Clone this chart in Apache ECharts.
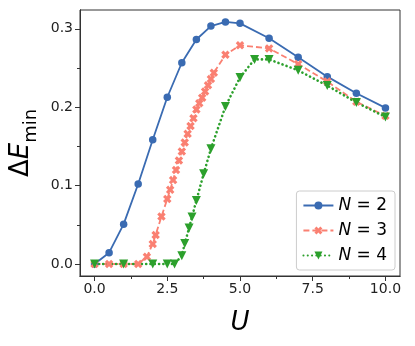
<!DOCTYPE html>
<html>
<head>
<meta charset="utf-8">
<script src="https://cdn.jsdelivr.net/npm/echarts@6/dist/echarts.min.js"></script>
<style>
  html, body { margin: 0; padding: 0; background: #fff; }
  #chart { width: 415px; height: 346px; }
</style>
</head>
<body>
<div id="chart"></div>
<script>
// data
const uN2 = [0, 0.5, 1, 1.5, 2, 2.5, 3, 3.5, 4, 4.5, 5, 6, 7, 8, 9, 10];
const eN2 = [0.0, 0.0144, 0.0508, 0.102, 0.1586, 0.2127, 0.2567, 0.2864, 0.3035, 0.3088, 0.307, 0.288, 0.2638, 0.239, 0.2178, 0.1991];

const uN3 = [0, 0.5, 1, 1.5, 1.8, 2.0, 2.1, 2.3, 2.5, 2.6, 2.7, 2.8, 2.9, 3.0, 3.1, 3.2, 3.3, 3.4, 3.5, 3.6, 3.7, 3.8, 3.9, 4.0, 4.1, 4.5, 5, 6, 7, 8, 9, 10];
const eN3 = [0, 0, 0, 0, 0.0093, 0.0256, 0.037, 0.0605, 0.083, 0.0946, 0.107, 0.120, 0.132, 0.1435, 0.155, 0.166, 0.176, 0.186, 0.197, 0.205, 0.212, 0.220, 0.228, 0.236, 0.244, 0.267, 0.279, 0.275, 0.255, 0.2327, 0.207, 0.189];

const uN4 = [0, 1, 2, 2.5, 2.75, 3.0, 3.1, 3.25, 3.35, 3.5, 3.75, 4.0, 4.5, 5, 5.5, 6, 7, 8, 9, 10];
const eN4 = [0, 0, 0, 0, 0, 0.0106, 0.026, 0.046, 0.06, 0.081, 0.115, 0.147, 0.201, 0.238, 0.261, 0.261, 0.247, 0.2276, 0.206, 0.1876];

const xTicks = [0, 2.5, 5, 7.5, 10];
const xMinor = [1.25, 3.75, 6.25, 8.75];
const yTicks = [0, 0.1, 0.2, 0.3];
const yMinor = [0.05, 0.15, 0.25];

const font = "DejaVu Sans";
const pairs = (u, e) => u.map((x, i) => [x, e[i]]);
// filled "X" marker, a bit chunky like matplotlib's
const crossPath = "path://M2.6,0 L5,2.4 L7.4,0 L10,2.6 L7.6,5 L10,7.4 L7.4,10 L5,7.6 L2.6,10 L0,7.4 L2.4,5 L0,2.6 Z";

const chart = echarts.init(document.getElementById("chart"));

const xBase = {
  type: "value", position: "bottom", min: -0.5, max: 10.5, splitLine: { show: false },
  axisLine: { show: true, onZero: false, lineStyle: { color: "#333", width: 1 } }
};
const yBase = {
  type: "value", position: "left", min: -0.0153, max: 0.324, splitLine: { show: false },
  axisLine: { show: true, onZero: false, lineStyle: { color: "#333", width: 1 } }
};

const option = {
  animation: false,
  backgroundColor: "#fff",
  grid: {
    left: 80, top: 10, right: 15, bottom: 70,
    outerBoundsMode: "none",
    show: true, borderColor: "#333", borderWidth: 1
  },
  xAxis: [
    Object.assign({}, xBase, {
      name: "U",
      nameLocation: "middle",
      nameGap: 34,
      nameTextStyle: { fontFamily: font, fontSize: 26, fontStyle: "italic", color: "#000" },
      axisTick: { show: true, customValues: xTicks, length: 5, lineStyle: { color: "#333" } },
      axisLabel: {
        customValues: xTicks, fontFamily: font, fontSize: 14, color: "#222", margin: 6,
        formatter: v => v.toFixed(1)
      }
    }),
    Object.assign({}, xBase, {
      axisTick: { show: true, customValues: xMinor, length: 3, lineStyle: { color: "#333" } },
      axisLabel: { show: false }
    })
  ],
  yAxis: [
    Object.assign({}, yBase, {
      name: "{d|Δ}{e|E}{s|min}",
      nameLocation: "middle",
      nameGap: 46,
      nameRotate: 90,
      nameTextStyle: {
        rich: {
          d: { fontFamily: font, fontSize: 26, color: "#000", verticalAlign: "bottom" },
          e: { fontFamily: font, fontSize: 26, fontStyle: "italic", color: "#000", verticalAlign: "bottom" },
          s: { fontFamily: font, fontSize: 18, color: "#000", verticalAlign: "bottom", padding: [0, 0, -6, 0] }
        }
      },
      axisTick: { show: true, customValues: yTicks, length: 5, lineStyle: { color: "#333" } },
      axisLabel: {
        customValues: yTicks, fontFamily: font, fontSize: 14, color: "#222", margin: 7,
        formatter: v => v.toFixed(1)
      }
    }),
    Object.assign({}, yBase, {
      axisTick: { show: true, customValues: yMinor, length: 3, lineStyle: { color: "#333" } },
      axisLabel: { show: false }
    })
  ],
  legend: {
    orient: "vertical",
    right: 20,
    bottom: 76,
    padding: [6, 8, 6, 6],
    itemGap: 8,
    itemWidth: 30,
    itemHeight: 10,
    backgroundColor: "rgba(255,255,255,0.85)",
    borderColor: "#ccc",
    borderWidth: 1,
    borderRadius: 3,
    textStyle: {
      fontFamily: font, fontSize: 17, color: "#000",
      rich: {
        i: { fontFamily: font, fontSize: 17, fontStyle: "italic", color: "#000" },
        t: { fontFamily: font, fontSize: 17, color: "#000" }
      }
    },
    formatter: name => "{i|N}{t| = " + name.split("=")[1] + "}",
    data: ["N=2", "N=3", "N=4"]
  },
  series: [
    {
      name: "N=2", type: "line", data: pairs(uN2, eN2),
      symbol: "circle", symbolSize: 7.5,
      itemStyle: { color: "#3a6bb2" },
      lineStyle: { width: 1.8, color: "#3a6bb2" }
    },
    {
      name: "N=3", type: "line", data: pairs(uN3, eN3),
      symbol: crossPath, symbolSize: 8.5,
      itemStyle: { color: "#fa8072" },
      lineStyle: { width: 1.8, color: "#fa8072", type: [6, 3] }
    },
    {
      name: "N=4", type: "line", data: pairs(uN4, eN4),
      symbol: "triangle", symbolRotate: 180, symbolSize: 9,
      itemStyle: { color: "#2ca02c" },
      lineStyle: { width: 2.6, color: "#2ca02c", type: [0.1, 4.2], cap: "round" }
    }
  ]
};

chart.setOption(option);
</script>
</body>
</html>
